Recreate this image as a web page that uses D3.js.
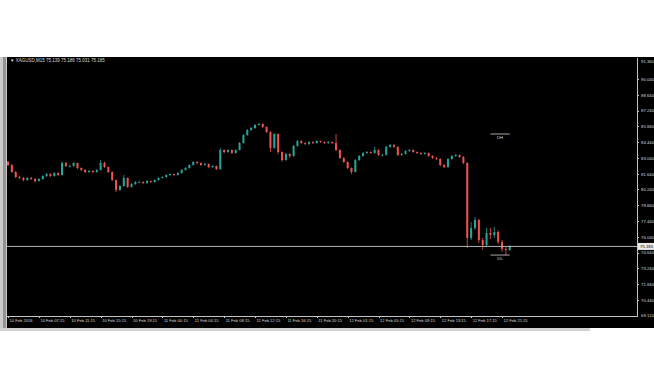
<!DOCTYPE html>
<html>
<head>
<meta charset="utf-8">
<script src="https://cdn.jsdelivr.net/npm/d3@7"></script>
<style>
  html, body { margin: 0; padding: 0; background: #ffffff; }
  svg { display: block; }
  text { font-family: "Liberation Sans", Arial, sans-serif; }
  .axis text { fill: #d8d8d8; }
  .axis path, .axis line { stroke: #c4c4c4; stroke-width: 1; shape-rendering: crispEdges; }
</style>
</head>
<body>
<svg width="654" height="366"></svg>
<script>
// candle data, M30 bars from 10 Feb to 12 Feb (open = previous close)
const firstOpen = 82.70
const closes = [
  82.41, 81.79, 81.34, 81.26, 81.08, 81.26, 81.17, 80.99, 81.17, 81.43,
  81.61, 81.43, 81.70, 81.52, 82.59, 82.32, 82.32, 82.59, 82.14, 81.97,
  81.79, 81.88, 81.79, 81.97, 82.59, 82.23, 81.79, 81.08, 80.19, 80.55,
  81.26, 80.46, 80.72, 80.90, 80.90, 80.81, 80.99, 80.90, 81.08, 81.26,
  81.34, 81.52, 81.61, 81.52, 81.70, 81.97, 82.14, 82.41, 82.68, 82.59,
  82.41, 82.50, 82.23, 82.32, 82.05, 83.74, 83.56, 83.74, 83.47, 83.74,
  84.36, 85.07, 85.51, 85.69, 85.96, 86.05, 85.78, 85.34, 83.92, 85.16,
  83.56, 82.85, 83.39, 83.21, 84.10, 84.54, 84.36, 84.27, 84.45, 84.36,
  84.54, 84.45, 84.36, 84.45, 84.36, 83.74, 83.03, 82.68, 82.14, 81.79,
  82.85, 83.21, 83.47, 83.56, 83.47, 83.74, 83.30, 83.30, 84.01, 84.18,
  84.01, 83.30, 83.39, 83.65, 83.74, 83.56, 83.47, 83.39, 83.47, 83.21,
  83.03, 82.94, 82.41, 82.23, 82.94, 83.21, 83.30, 83.12, 82.59, 75.93,
  76.82, 77.53, 75.75, 75.31, 76.38, 76.20, 76.46, 75.58, 74.96, 74.87,
  75.185
]
const highs = [
  82.78, 82.48, 81.88, 81.45, 81.35, 81.34, 81.36, 81.25, 81.24, 81.50,
  81.70, 81.68, 81.78, 81.76, 82.70, 82.66, 82.45, 82.66, 82.62, 82.20,
  82.02, 81.98, 81.94, 82.05, 82.85, 82.72, 82.28, 81.85, 81.12, 80.64,
  81.52, 81.30, 80.81, 80.99, 81.02, 80.96, 81.06, 81.04, 81.15, 81.32,
  81.42, 81.58, 81.68, 81.66, 81.78, 82.04, 82.22, 82.48, 82.76, 82.74,
  82.64, 82.58, 82.55, 82.40, 82.36, 83.92, 83.80, 83.82, 83.78, 83.80,
  84.45, 85.16, 85.60, 85.78, 86.05, 86.14, 86.10, 85.84, 85.40, 85.25,
  85.20, 83.62, 83.48, 83.46, 84.18, 84.63, 84.60, 84.42, 84.52, 84.50,
  84.60, 84.58, 84.50, 84.52, 84.50, 85.16, 83.80, 83.10, 82.74, 82.20,
  82.94, 83.30, 83.56, 83.65, 83.62, 84.01, 83.80, 83.40, 84.10, 84.27,
  84.25, 84.06, 83.48, 83.72, 83.82, 83.80, 83.62, 83.54, 83.55, 83.52,
  83.28, 83.10, 83.00, 82.48, 83.02, 83.30, 83.38, 83.36, 83.20, 82.66,
  77.35, 77.80, 77.62, 75.93, 76.82, 76.82, 76.91, 76.64, 75.75, 75.22,
  75.31
]
const lows = [
  82.32, 81.70, 81.24, 81.17, 80.95, 81.00, 81.08, 80.85, 80.92, 81.10,
  81.36, 81.35, 81.38, 81.44, 81.48, 82.24, 82.20, 82.26, 82.05, 81.88,
  81.70, 81.72, 81.70, 81.74, 81.92, 82.15, 81.70, 80.99, 80.01, 80.10,
  80.48, 80.37, 80.40, 80.64, 80.80, 80.72, 80.74, 80.82, 80.85, 81.02,
  81.20, 81.28, 81.46, 81.44, 81.47, 81.65, 81.92, 82.08, 82.36, 82.50,
  82.33, 82.35, 82.15, 82.16, 81.97, 82.00, 83.45, 83.50, 83.40, 83.42,
  83.70, 84.30, 85.00, 85.44, 85.62, 85.90, 85.70, 85.25, 83.56, 83.85,
  83.40, 82.70, 82.78, 83.03, 83.15, 84.04, 84.28, 84.18, 84.20, 84.28,
  84.30, 84.38, 84.28, 84.30, 84.28, 83.65, 82.94, 82.59, 82.05, 81.61,
  81.74, 82.78, 83.15, 83.40, 83.40, 83.42, 83.22, 83.20, 83.25, 83.95,
  83.94, 83.21, 83.22, 83.33, 83.58, 83.50, 83.40, 83.32, 83.33, 83.14,
  82.95, 82.86, 82.32, 82.14, 82.18, 82.88, 83.14, 83.04, 82.50, 75.04,
  75.75, 76.64, 75.49, 74.87, 75.22, 75.84, 75.93, 75.40, 74.69, 74.42,
  74.80
]

// axis labels
const timeLabels = [
  "10 Feb 2016", "10 Feb 07:15", "10 Feb 11:15", "10 Feb 15:15", "10 Feb 19:15",
  "11 Feb 00:15", "11 Feb 04:15", "11 Feb 08:15", "11 Feb 12:15", "11 Feb 16:15",
  "11 Feb 20:15", "12 Feb 01:15", "12 Feb 05:15", "12 Feb 09:15", "12 Feb 13:15",
  "12 Feb 17:15", "12 Feb 21:15"
]
const priceTicks = [90.04, 88.64, 87.24, 85.84, 84.44, 83.04, 81.64, 80.24,
  78.84, 77.44, 76.04, 74.64, 73.24, 71.84, 70.44]
const topPrice = "91.360"
const bottomPrice = "69.120"
const dayHigh = 85.16
const dayLow = 74.42
const header = "\u25BC XAGUSD,M15  75.139 75.186 75.031 75.185"

const svg = d3.select("svg")

// tiny text: draw at double size and scale down by half
const tiny = function (g, x, y, size) {
  return g.append("text")
    .attr("transform", `translate(${x},${y}) scale(0.5)`)
    .attr("font-size", size * 2)
}

// chart panel
svg.append("rect")
  .attr("x", 0).attr("y", 57).attr("width", 7).attr("height", 272)
  .attr("fill", "#cacaca")
svg.append("rect")
  .attr("x", 3).attr("y", 57).attr("width", 3).attr("height", 272)
  .attr("fill", "#939393")
svg.append("rect")
  .attr("x", 7).attr("y", 57).attr("width", 647).attr("height", 271)
  .attr("fill", "#000000")
svg.append("rect")
  .attr("x", 0).attr("y", 328).attr("width", 590).attr("height", 3)
  .attr("fill", "#d2d2d2")

// scales
const x = d3.scaleLinear()
  .domain([0, 128])
  .range([8, 502])

const y = d3.scaleLinear()
  .domain([69.04, 90.04])
  .range([315.7, 79])

// axes
const priceAxis = d3.axisRight(y)
  .tickValues(priceTicks)
  .tickSize(2)
  .tickPadding(2)
  .tickFormat(d3.format(".3f"))

const timeAxis = d3.axisBottom(x)
  .tickValues(timeLabels.map((d, i) => i * 8))
  .tickSize(2)
  .tickPadding(2)
  .tickFormat((d, i) => timeLabels[i])

svg.append("g")
  .attr("class", "axis")
  .attr("transform", "translate(637,0)")
  .call(priceAxis)
  .call(g => g.select(".domain").attr("d", "M0.5,58V316.5"))
  .call(g => g.selectAll("text")
    .attr("x", 8).attr("transform", "scale(0.5)").attr("font-size", 8.6))

svg.append("g")
  .attr("class", "axis")
  .attr("transform", "translate(0,316)")
  .call(timeAxis)
  .call(g => g.select(".domain").attr("d", "M7,0.5H637.5"))
  .call(g => g.selectAll("text")
    .attr("text-anchor", "start")
    .attr("x", 2).attr("y", 6)
    .attr("transform", "scale(0.5)").attr("font-size", 8.2))

tiny(svg, 641, 62, 4.3)
  .attr("dominant-baseline", "middle")
  .attr("fill", "#d8d8d8")
  .text(topPrice)
tiny(svg, 641, 316, 4.3)
  .attr("dominant-baseline", "middle")
  .attr("fill", "#d8d8d8")
  .text(bottomPrice)

// candles
const candles = closes.map((c, i) => ({
  i: i,
  open: i ? closes[i - 1] : firstOpen,
  close: c,
  high: highs[i],
  low: lows[i]
}))

const up = "#26a69a"
const down = "#ef5350"

const cg = svg.append("g").attr("class", "candles")

cg.selectAll("line")
  .data(candles)
  .enter()
  .append("line")
  .attr("x1", d => x(d.i))
  .attr("x2", d => x(d.i))
  .attr("y1", d => y(d.high))
  .attr("y2", d => y(d.low))
  .attr("stroke", d => d.close >= d.open ? up : down)
  .attr("stroke-width", 0.8)

cg.selectAll("rect")
  .data(candles)
  .enter()
  .append("rect")
  .attr("x", d => x(d.i) - 1)
  .attr("width", 2)
  .attr("y", d => y(Math.max(d.open, d.close)))
  .attr("height", d => Math.max(0.8, Math.abs(y(d.open) - y(d.close))))
  .attr("fill", d => d.close >= d.open ? up : down)

// bid line + price label
const last = closes[closes.length - 1]
svg.append("line")
  .attr("x1", 7).attr("x2", 637)
  .attr("y1", y(last)).attr("y2", y(last))
  .attr("stroke", "#b4b4b4").attr("stroke-width", 1)
svg.append("rect")
  .attr("x", 638).attr("y", y(last) - 3.5)
  .attr("width", 16).attr("height", 7)
  .attr("fill", "#e8e8e8")
tiny(svg, 640, y(last), 4.3)
  .attr("dominant-baseline", "middle")
  .attr("fill", "#000")
  .text(last.toFixed(3))

// day high / low markers
const marks = [{ v: dayHigh, t: "DH" }, { v: dayLow, t: "DL" }]
svg.selectAll(".mark")
  .data(marks)
  .enter()
  .append("line")
  .attr("class", "mark")
  .attr("x1", x(125)).attr("x2", x(130))
  .attr("y1", d => y(d.v)).attr("y2", d => y(d.v))
  .attr("stroke", "#d0d0d0").attr("stroke-width", 0.8)
marks.forEach(d => {
  tiny(svg, x(127.5), y(d.v) + 4, 4.3)
    .attr("text-anchor", "middle")
    .attr("dominant-baseline", "middle")
    .attr("fill", "#d8d8d8")
    .text(d.t)
})

// header
tiny(svg, 10, 61, 4.5)
  .attr("dominant-baseline", "middle")
  .attr("fill", "#dcdcdc")
  .text(header)
</script>
</body>
</html>
